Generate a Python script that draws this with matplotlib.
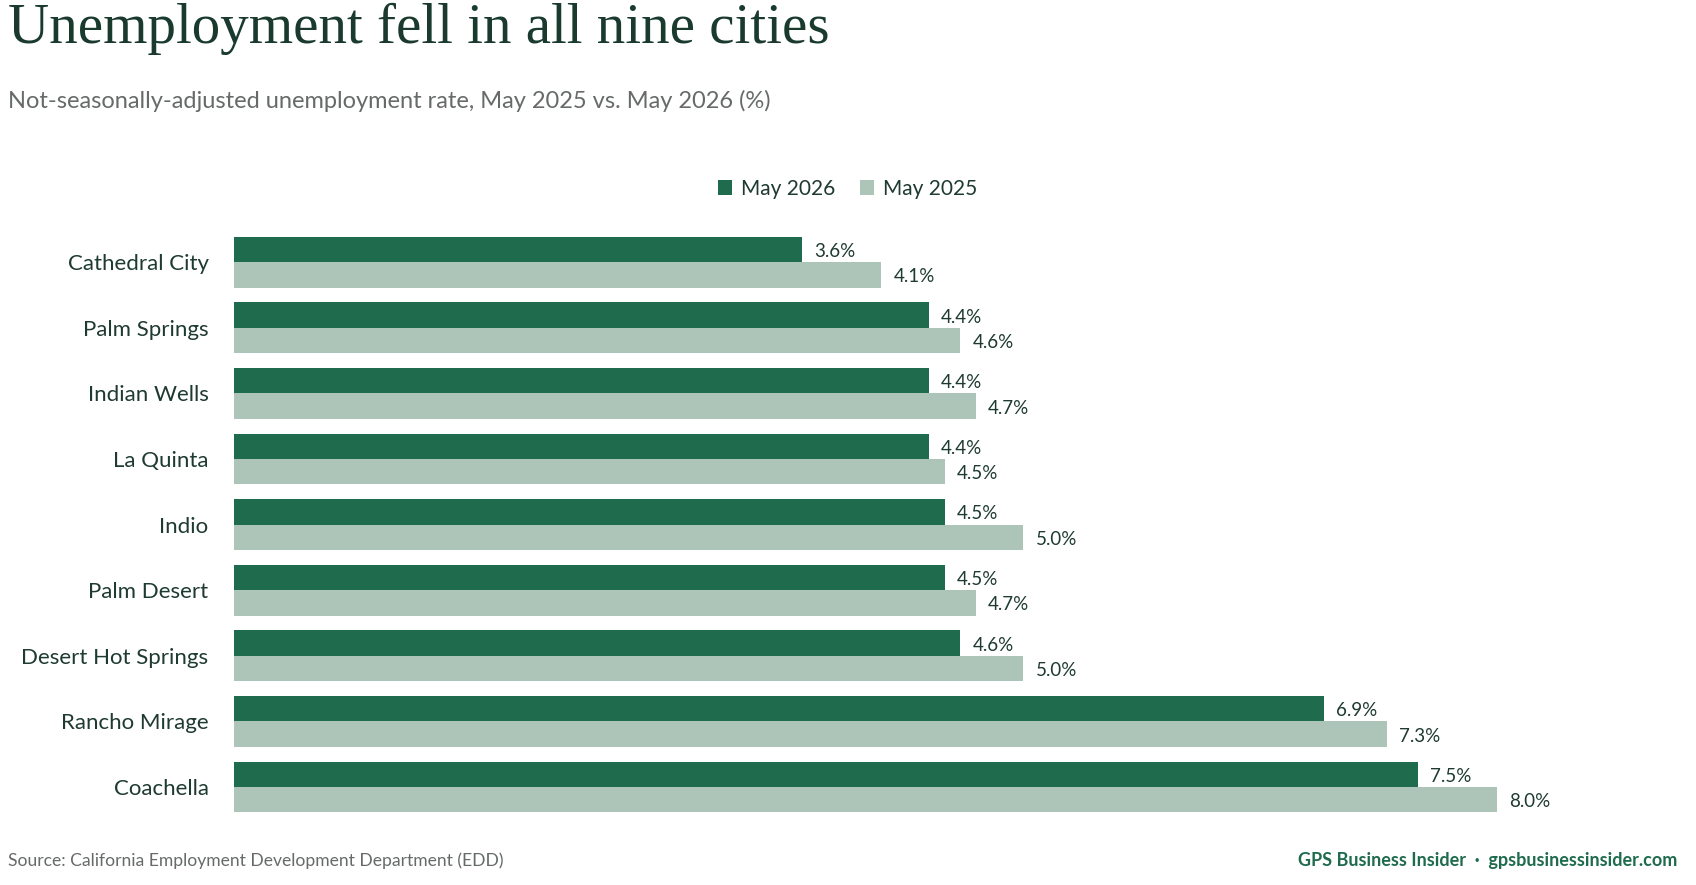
import matplotlib
matplotlib.use("Agg")
import matplotlib.pyplot as plt
import numpy as np

cities = ["Cathedral City", "Palm Springs", "Indian Wells", "La Quinta", "Indio",
          "Palm Desert", "Desert Hot Springs", "Rancho Mirage", "Coachella"]
may_2026 = [3.6, 4.4, 4.4, 4.4, 4.5, 4.5, 4.6, 6.9, 7.5]
may_2025 = [4.1, 4.6, 4.7, 4.5, 5.0, 4.7, 5.0, 7.3, 8.0]

dark = "#1F6B4E"
light = "#ADC4B9"
text_col = "#1E3A31"

plt.rcParams["font.family"] = ["Lato", "DejaVu Sans"]

fig = plt.figure(figsize=(16.96, 8.85), dpi=100)
ax = fig.add_axes([0.1377, 0.0737, 0.8384, 0.667])

y = np.arange(len(cities))
h = 0.387
b1 = ax.barh(y - h / 2, may_2026, height=h, color=dark, label="May 2026")
b2 = ax.barh(y + h / 2, may_2025, height=h, color=light, label="May 2025")

# value labels just right of each bar
for bars, vals in ((b1, may_2026), (b2, may_2025)):
    for bar, v in zip(bars, vals):
        ax.annotate(f"{v:.1f}%", (v, bar.get_y() + bar.get_height() / 2),
                    xytext=(12, -2), textcoords="offset pixels",
                    va="center", ha="left", fontsize=13.5, color=text_col)

ax.set_xlim(0, 9)
ax.set_ylim(len(cities) - 0.5, -0.5)
ax.set_yticks(y)
ax.set_yticklabels(cities, fontsize=16, color=text_col)
ax.tick_params(axis="y", length=0, pad=18)
ax.set_xticks([])
for s in ax.spines.values():
    s.set_visible(False)

fig.text(0.005, 0.997, "Unemployment fell in all nine cities", fontsize=41,
         family=["Liberation Serif"], color="#1A3A2E", va="top", ha="left")
fig.text(0.005, 0.886, "Not-seasonally-adjusted unemployment rate, May 2025 vs. May 2026 (%)",
         fontsize=17, color="#666B69", va="center", ha="left")

fig.legend(handles=[b1, b2], labels=["May 2026", "May 2025"], loc="center",
           bbox_to_anchor=(0.4996, 0.787), ncol=2, frameon=False, fontsize=15,
           handlelength=0.7, handleheight=0.7, handletextpad=0.4, columnspacing=1.2,
           labelcolor=text_col)

fig.text(0.005, 0.028, "Source: California Employment Development Department (EDD)",
         fontsize=12.6, color="#666B69", va="center", ha="left")
fig.text(0.989, 0.028, "GPS Business Insider  \u00b7  gpsbusinessinsider.com",
         fontsize=13, color="#1F6B4E", fontweight="bold", va="center", ha="right")

fig.savefig("out.png", dpi=100, facecolor="white")
